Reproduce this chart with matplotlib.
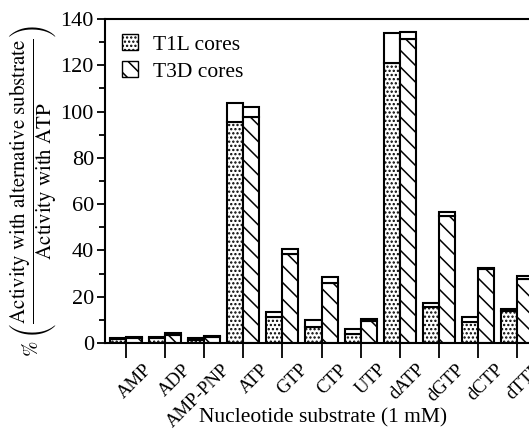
import matplotlib
matplotlib.use('Agg')
import matplotlib.pyplot as plt
import matplotlib.patches as mpatches
import matplotlib.transforms as mtransforms
import numpy as np

categories = ['AMP', 'ADP', 'AMP-PNP', 'ATP', 'GTP', 'CTP', 'UTP',
              'dATP', 'dGTP', 'dCTP', 'dTTP']
t1l = [1.6, 2.0, 1.3, 95.5, 11.1, 6.8, 4.0, 120.9, 15.7, 9.2, 13.8]
t1l_err = [0.7, 0.7, 0.8, 8.4, 2.2, 3.1, 1.9, 12.9, 1.6, 2.2, 0.8]
t3d = [2.2, 3.6, 2.5, 97.8, 38.5, 25.8, 9.5, 131.4, 54.9, 31.8, 27.7]
t3d_err = [0.6, 0.7, 0.6, 4.2, 2.1, 2.9, 0.9, 3.1, 1.6, 0.8, 1.4]

plt.rcParams['font.family'] = ['Liberation Serif', 'DejaVu Serif']
plt.rcParams['mathtext.fontset'] = 'stix'
plt.rcParams['hatch.linewidth'] = 1.1

fig = plt.figure(figsize=(5.29, 4.36), dpi=100)
W, H = 529.0, 436.0
# axes runs a bit past the right edge, like the cropped original
ax = fig.add_axes([105 / W, 93 / H, 433 / W, 324 / H])

x = np.arange(len(categories))
w = 0.41
lw = 1.5

# T1L: dotted bars plus open box for the error part
ax.bar(x - w / 2, t1l, w, color='white', edgecolor='black', hatch='....', linewidth=lw)
ax.bar(x - w / 2, t1l_err, w, bottom=t1l, color='white', edgecolor='black', linewidth=lw)
# T3D: diagonal hatched bars
ax.bar(x + w / 2, t3d, w, color='white', edgecolor='black', hatch='\\\\', linewidth=lw)
ax.bar(x + w / 2, t3d_err, w, bottom=t3d, color='white', edgecolor='black', linewidth=lw)

ax.set_xlim(-0.54, len(categories) - 1 + 0.54)
ax.set_ylim(0, 140)
ax.set_yticks(range(0, 141, 20))
ax.set_yticks(range(0, 141, 10), minor=True)
ax.tick_params(axis='y', which='major', direction='out', length=6, width=1.3, labelsize=16, pad=2)
ax.tick_params(axis='y', which='minor', direction='out', length=4, width=1.3)
ax.set_xticks(x)
ax.set_xticklabels(categories, rotation=45, ha='right', va='top',
                   rotation_mode='anchor', fontsize=13.5)
ax.tick_params(axis='x', direction='out', length=11, width=1.3, pad=2)
# labels sit a little right of their ticks in the original
shift = mtransforms.ScaledTranslation(17 / 100, 0, fig.dpi_scale_trans)
for lab in ax.get_xticklabels():
    lab.set_transform(lab.get_transform() + shift)
for s in ax.spines.values():
    s.set_linewidth(1.5)

fig.text(323 / W, 1 - 418 / H, 'Nucleotide substrate (1 mM)', fontsize=15.5,
         ha='center', va='center')

fig.text(33 / W, 1 - 191 / H,
         r'$\%\;\left(\dfrac{\mathrm{Activity\ with\ alternative\ substrate}}{\mathrm{Activity\ with\ ATP}}\right)$',
         rotation=90, ha='center', va='center', fontsize=15)

handles = [mpatches.Patch(facecolor='white', edgecolor='black', hatch='....', label='T1L cores'),
           mpatches.Patch(facecolor='white', edgecolor='black', hatch='\\\\', label='T3D cores')]
ax.legend(handles=handles, loc='upper left', bbox_to_anchor=(-0.005, 1.012), frameon=False,
          fontsize=15.5, handlelength=0.75, handleheight=0.75, handletextpad=0.7,
          labelspacing=0.3)

fig.savefig('out.png', dpi=100)
